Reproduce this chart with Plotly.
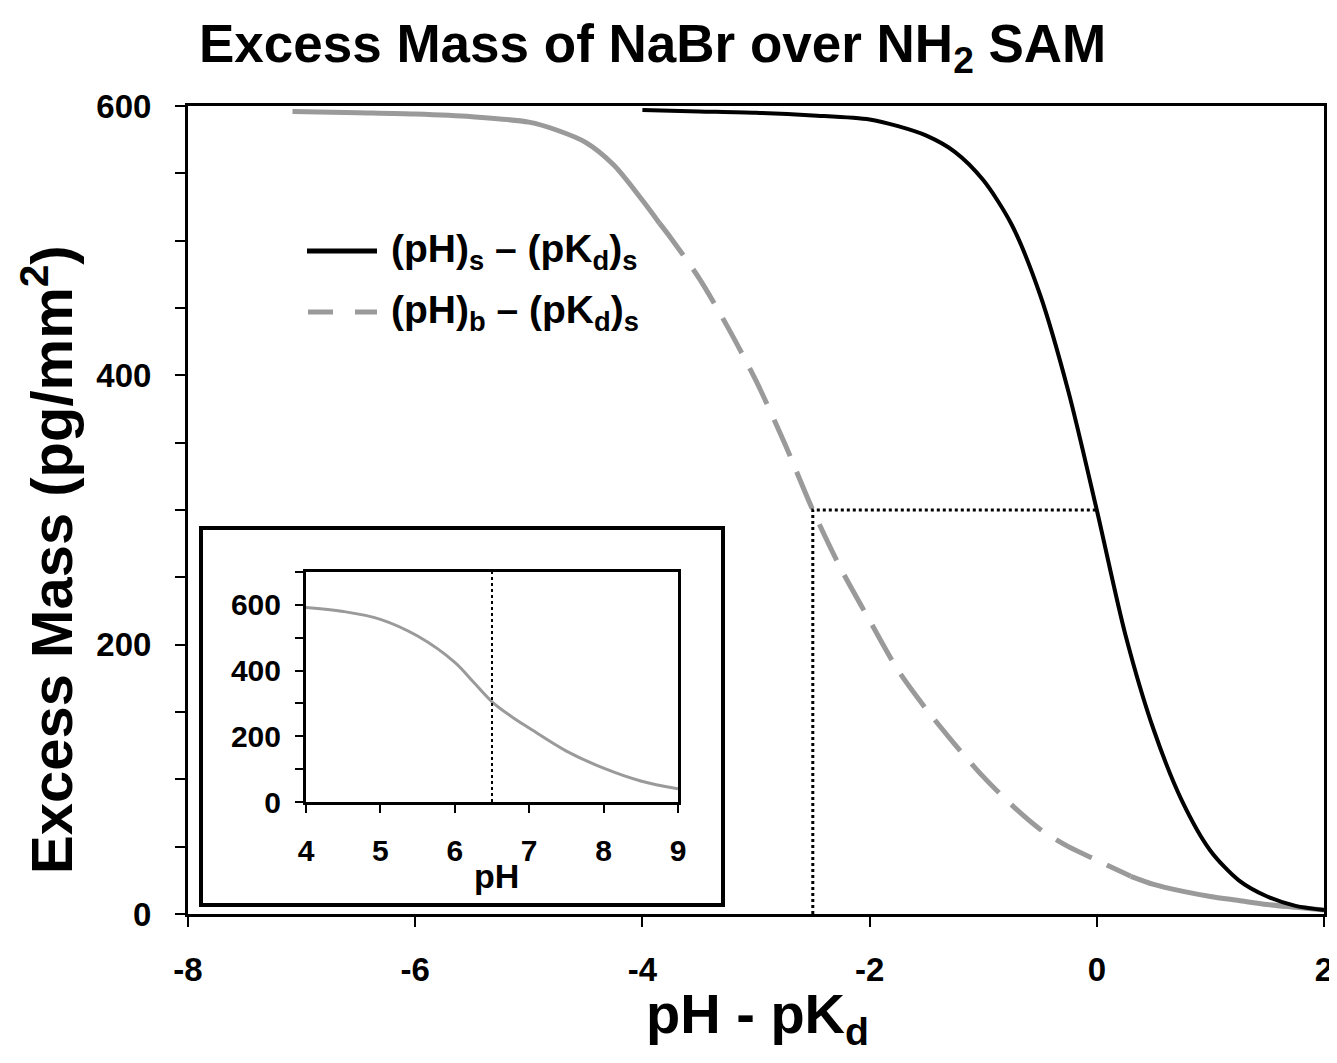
import plotly.graph_objects as go

# ---------------- data ----------------
# main panel: black curve (pH)s - (pKd)s
surf_x = [-4.0, -3.5, -3.0, -2.5, -2.0, -1.75, -1.5, -1.25, -1.0, -0.75, -0.5, -0.25,
          0.0, 0.25, 0.5, 0.75, 1.0, 1.25, 1.5, 1.75, 2.0]
surf_y = [597, 596, 595, 593, 590, 585, 578, 566, 545, 512, 460, 388,
          300, 208, 137, 84, 47, 25, 13, 6, 3]

# main panel: gray curve (pH)b - (pKd)s
bulk_x = [-7.08, -6.5, -6.0, -5.5, -5.0, -4.75, -4.5, -4.25, -4.0, -3.85, -3.75, -3.5,
          -3.25, -3.0, -2.75, -2.5, -2.25, -2.0, -1.75, -1.5, -1.25, -1.0, -0.75,
          -0.5, -0.25, 0.0, 0.3, 0.5, 0.75, 1.0, 1.25, 1.5, 1.75, 2.0]
bulk_y = [596, 595, 594, 592, 588, 582, 573, 556, 530, 513, 502, 472,
          436, 396, 350, 300, 256, 218, 181, 152, 126, 102, 81,
          63, 50, 40, 28, 22, 17, 13, 10, 7, 5, 3]
dash_start = -3.85
dash_end = 0.3

# reference (dotted) lines in main panel
ref_x = [-2.5, -2.5, 0.0]
ref_y = [0, 300, 300]

# inset: excess mass vs pH
inset_ph = [4.0, 4.5, 5.0, 5.5, 6.0, 6.25, 6.5, 6.75, 7.0, 7.5, 8.0, 8.5, 9.0]
inset_mass = [592, 580, 556, 505, 425, 365, 305, 262, 225, 155, 103, 64, 40]
inset_ref_x = [6.5, 6.5]
inset_ref_y = [0, 700]

main_xticks = [-8, -6, -4, -2, 0, 2]
main_xticklabels = ["-8", "-6", "-4", "-2", "0", "2"]
main_yticks = [0, 200, 400, 600]
inset_xticks = [4, 5, 6, 7, 8, 9]
inset_yticks = [0, 200, 400, 600]

legend_labels = ["(pH)<sub>s</sub> – (pK<sub>d</sub>)<sub>s</sub>",
                 "(pH)<sub>b</sub> – (pK<sub>d</sub>)<sub>s</sub>"]

# ---------------- figure ----------------
FONT = "Liberation Sans, Arial, Helvetica, sans-serif"
GRAY = "#9a9a9a"

# page has an 8px body margin; figure sized so it fits the 1337x1063 window
W, H = 1329, 1047
ML, MT = 180, 98
PW, PH = 1136, 808
MR, MB = W - ML - PW, H - MT - PH

# page-pixel helpers (plot area spans page x 188..1324, y 106..914)
def px(xp):
    return (xp - 188) / PW


def py(yp):
    return (914 - yp) / PH


fig = go.Figure()

# gray curve split into solid / dashed / solid pieces
seg1 = [(x, y) for x, y in zip(bulk_x, bulk_y) if x <= dash_start]
seg2 = [(x, y) for x, y in zip(bulk_x, bulk_y) if dash_start <= x <= dash_end]
seg3 = [(x, y) for x, y in zip(bulk_x, bulk_y) if x >= dash_end]
for seg, dash in [(seg1, "solid"), (seg2, "40px,17px"), (seg3, "solid")]:
    fig.add_trace(go.Scatter(
        x=[p[0] for p in seg], y=[p[1] for p in seg], mode="lines",
        line=dict(color=GRAY, width=5, dash=dash, shape="spline", smoothing=0.8),
        showlegend=False, hoverinfo="skip"))

fig.add_trace(go.Scatter(
    x=surf_x, y=surf_y, mode="lines",
    line=dict(color="black", width=4, shape="spline", smoothing=0.8),
    showlegend=False, hoverinfo="skip"))

fig.add_trace(go.Scatter(
    x=ref_x, y=ref_y, mode="lines",
    line=dict(color="black", width=3, dash="dot"),
    showlegend=False, hoverinfo="skip"))

# inset traces
fig.add_trace(go.Scatter(
    x=inset_ph, y=inset_mass, mode="lines", xaxis="x2", yaxis="y2",
    line=dict(color=GRAY, width=3, shape="spline", smoothing=1.0),
    showlegend=False, hoverinfo="skip"))
fig.add_trace(go.Scatter(
    x=inset_ref_x, y=inset_ref_y, mode="lines", xaxis="x2", yaxis="y2",
    line=dict(color="black", width=2, dash="dot"),
    showlegend=False, hoverinfo="skip"))

tick_font = dict(family=FONT, size=33, color="black", weight="bold")
inset_tick_font = dict(family=FONT, size=30, color="black", weight="bold")

fig.update_layout(
    width=W, height=H,
    margin=dict(l=ML, r=MR, t=MT, b=MB, autoexpand=False),
    paper_bgcolor="white", plot_bgcolor="white",
    xaxis=dict(domain=[0, 1], range=[-8, 2], tickvals=main_xticks,
               ticktext=main_xticklabels,
               showline=True, mirror=True, linecolor="black", linewidth=3,
               ticks="outside", ticklen=10, tickwidth=2, tickcolor="black",
               showgrid=False, zeroline=False, tickfont=tick_font,
               ticklabelstandoff=14),
    yaxis=dict(domain=[0, 1], range=[0, 600], tickvals=main_yticks,
               showline=True, mirror=True, linecolor="black", linewidth=3,
               ticks="outside", ticklen=10, tickwidth=2, tickcolor="black",
               minor=dict(dtick=50, ticks="outside", ticklen=10, tickwidth=2,
                          tickcolor="black"),
               showgrid=False, zeroline=False, tickfont=tick_font,
               ticklabelstandoff=17),
    xaxis2=dict(domain=[px(306), px(678)], anchor="y2", range=[4, 9],
                tickvals=inset_xticks,
                showline=True, mirror=True, linecolor="black", linewidth=3,
                ticks="outside", ticklen=8, tickwidth=2, tickcolor="black",
                showgrid=False, zeroline=False, tickfont=inset_tick_font,
                ticklabelstandoff=12),
    yaxis2=dict(domain=[py(802), py(572)], anchor="x2", range=[0, 700],
                tickvals=inset_yticks,
                showline=True, mirror=True, linecolor="black", linewidth=3,
                ticks="outside", ticklen=8, tickwidth=2, tickcolor="black",
                minor=dict(dtick=100, ticks="outside", ticklen=8, tickwidth=2,
                           tickcolor="black"),
                showgrid=False, zeroline=False, tickfont=inset_tick_font,
                ticklabelstandoff=8),
    showlegend=False,
)

# inset outer frame
fig.add_shape(type="rect", xref="paper", yref="paper",
              x0=px(201), x1=px(723), y0=py(905), y1=py(528),
              line=dict(color="black", width=4), fillcolor="rgba(0,0,0,0)")

# legend (manual)
fig.add_shape(type="line", xref="paper", yref="paper",
              x0=px(307), x1=px(377), y0=py(251), y1=py(251),
              line=dict(color="black", width=5))
fig.add_shape(type="line", xref="paper", yref="paper",
              x0=px(308), x1=px(377), y0=py(312), y1=py(312),
              line=dict(color=GRAY, width=5, dash="25px,22px"))
for lab, yy in zip(legend_labels, [251, 312]):
    fig.add_annotation(text=lab, xref="paper", yref="paper",
                       x=px(389), y=py(yy), xanchor="left", yanchor="middle",
                       showarrow=False,
                       font=dict(family=FONT, size=39, color="black", weight="bold"))

# titles
fig.add_annotation(text="Excess Mass of NaBr over NH<sub>2</sub> SAM",
                   xref="paper", yref="paper", x=px(652), y=py(47),
                   xanchor="center", yanchor="middle", showarrow=False,
                   font=dict(family=FONT, size=53, color="black", weight="bold"))
fig.add_annotation(text="Excess Mass (pg/mm<sup>2</sup>)",
                   xref="paper", yref="paper", x=px(47), y=py(560),
                   xanchor="center", yanchor="middle", textangle=-90,
                   showarrow=False,
                   font=dict(family=FONT, size=58, color="black", weight="bold"))
fig.add_annotation(text="pH - pK<sub>d</sub>",
                   xref="paper", yref="paper", x=px(757), y=py(1017),
                   xanchor="center", yanchor="middle", showarrow=False,
                   font=dict(family=FONT, size=56, color="black", weight="bold"))
fig.add_annotation(text="pH",
                   xref="paper", yref="paper", x=px(496), y=py(876),
                   xanchor="center", yanchor="middle", showarrow=False,
                   font=dict(family=FONT, size=34, color="black", weight="bold"))

fig.write_html("out.html")
